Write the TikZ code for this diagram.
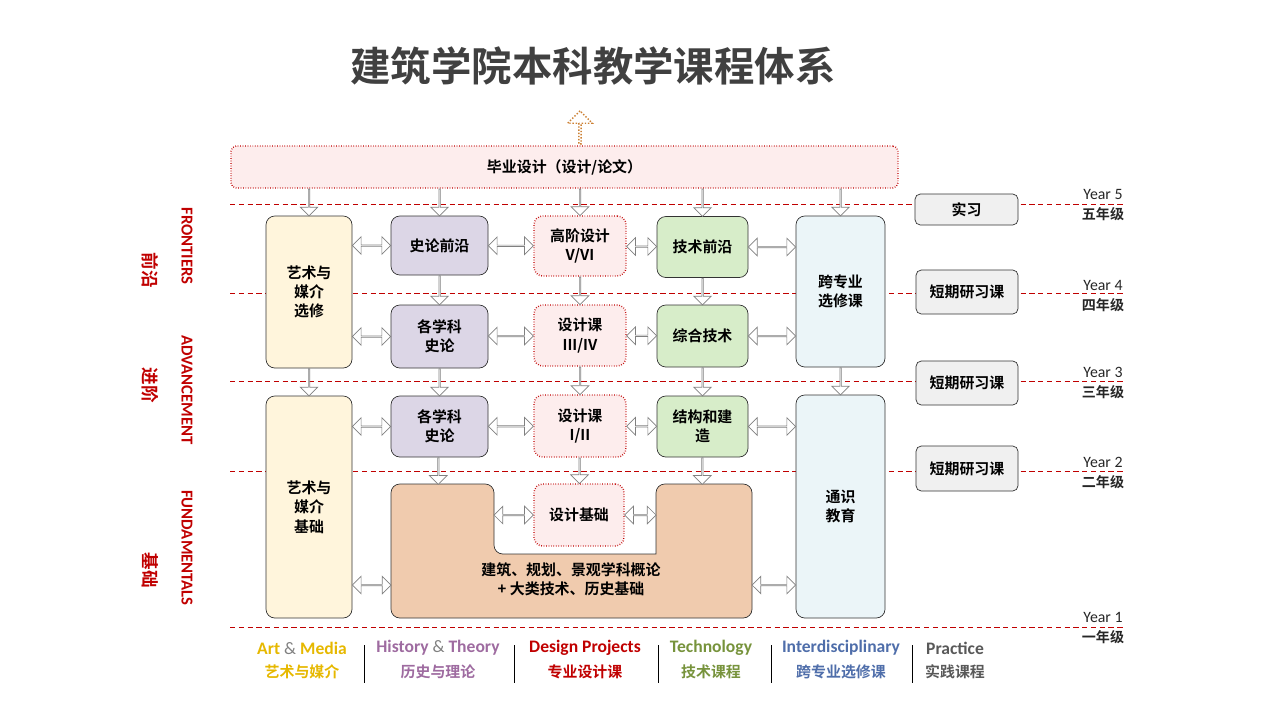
\documentclass[tikz,border=0pt]{standalone}
\usepackage{fontspec}
\setmainfont{Noto Sans CJK SC}[BoldFont={* Bold}]
\newfontfamily\en{Carlito}
\usepackage{tikz}
\usetikzlibrary{shapes.arrows, calc, positioning}

\definecolor{cream}{HTML}{FFF5DC}
\definecolor{lav}{HTML}{DCD6E6}
\definecolor{mint}{HTML}{D7EDC9}
\definecolor{ice}{HTML}{EBF5F8}
\definecolor{peach}{HTML}{F0CBAE}
\definecolor{pinkbg}{HTML}{FDEDED}
\definecolor{darkred}{HTML}{C00000}
\definecolor{gold}{HTML}{E6B800}
\definecolor{purp}{HTML}{9E6BA0}
\definecolor{olive}{HTML}{77933C}
\definecolor{navy}{HTML}{4F6EAA}
\definecolor{dgray}{HTML}{595959}

% hollow double arrow between two points
\newcommand{\darr}[2]{\path let \p1=($(#2)-(#1)$) in node[darr, minimum height=\x1] at ($(#1)!.5!(#2)$) {};}
% hollow up arrow from bottom point to top point
\newcommand{\uarr}[2]{\path let \p1=($(#2)-(#1)$) in node[uarr, minimum height=\y1] at ($(#1)!.5!(#2)$) {};}

\begin{document}
\begin{tikzpicture}[x=0.02cm, y=-0.02cm,
    box/.style={rectangle, rounded corners=5pt, draw=black!80, thin, align=center, font=\bfseries\fontsize{8.5}{11}\selectfont, inner sep=0pt},
    dbox/.style={box, draw=darkred, densely dotted, thick, fill=pinkbg},
    grid/.style={darkred, densely dashed, thin},
    darr/.style={double arrow, draw=gray, fill=white, thin, minimum width=10pt, double arrow head extend=2.5pt, inner sep=0pt},
    uarr/.style={single arrow, draw=gray, fill=white, thin, rotate=-90, minimum width=10pt, single arrow head extend=2.5pt, inner sep=0pt},
    year/.style={font=\en\fontsize{9}{10}\selectfont, text=black!85},
    yzh/.style={font=\bfseries\fontsize{8}{9}\selectfont, text=black!85},
    side/.style={rotate=-90, text=darkred, font=\en\bfseries\fontsize{9.5}{10}\selectfont},
    legen/.style={font=\en\bfseries\fontsize{10}{11}\selectfont},
    legzh/.style={font=\bfseries\fontsize{8.5}{10}\selectfont}
]
\useasboundingbox (0,0) rectangle (1280,720);

% Title
\node[font=\bfseries\fontsize{23}{26}\selectfont, text=black!75] (title) at (593,66) {建筑学院本科教学课程体系};

% Grid lines
\foreach \y in {204,293,381,471,627}
  \draw[grid] (230,\y) -- (1125,\y);

% Year labels
\foreach \y/\n/\z in {194/5/五, 285/4/四, 372/3/三, 462/2/二, 617/1/一} {
  \node[year] at (1103,\y) {Year \n};
  \node[yzh] at (1103,\y+20) {\z 年级};
}

% Side labels
\node[side] (fr) at (187,246) {FRONTIERS};
\node[side] (ad) at (187,390) {ADVANCEMENT};
\node[side] (fu) at (187,548) {FUNDAMENTALS};
\node[side, font=\bfseries\fontsize{10}{11}\selectfont] (frz) at (150,270) {前沿};
\node[side, font=\bfseries\fontsize{10}{11}\selectfont] (adz) at (150,385) {进阶};
\node[side, font=\bfseries\fontsize{10}{11}\selectfont] (fuz) at (150,570) {基础};

% Thesis
\node[dbox, rounded corners=3pt, minimum width=667*0.02cm, minimum height=42*0.02cm] (thesis) at (564.5,167) {毕业设计（设计/论文）};
\node[single arrow, draw=brown!80!orange, densely dotted, thick, fill=white, rotate=90, minimum width=14pt, single arrow head extend=4pt, minimum height=33*0.02cm, inner sep=0pt] (out) at (580,128) {};

% U-shaped foundation block
\draw[draw=black!80, fill=peach, thin, rounded corners=5pt]
  (391,618) -- (391,484) -- (494,484) -- (494,554) [sharp corners] -- (656,554) [rounded corners=5pt] -- (656,484) -- (752,484) -- (752,618) -- cycle;
\node[align=center, font=\bfseries\fontsize{8.5}{11}\selectfont] (intro) at (571,579) {建筑、规划、景观学科概论\\+ 大类技术、历史基础};
\coordinate (uL) at (494,515);
\coordinate (uR) at (656,515);
\coordinate (uLo) at (391,585);
\coordinate (uRo) at (752,585);
\coordinate (uT1) at (437,484);
\coordinate (uT2) at (702,484);

% Year 5/4 row
\node[box, fill=cream, minimum width=86*0.02cm, minimum height=152*0.02cm] (artE) at (309,292) {艺术与\\媒介\\选修};
\node[box, fill=lav, minimum width=97*0.02cm, minimum height=59*0.02cm] (hisF) at (439.5,245.5) {史论前沿};
\node[dbox, minimum width=92*0.02cm, minimum height=60*0.02cm] (desA) at (580,246) {高阶设计\\V/VI};
\node[box, fill=mint, minimum width=91*0.02cm, minimum height=61*0.02cm] (tecF) at (702.5,247) {技术前沿};
\node[box, fill=ice, minimum width=89*0.02cm, minimum height=151*0.02cm] (inter) at (840.5,291.5) {跨专业\\选修课};
\node[box, fill=black!6, rounded corners=3pt, minimum width=103*0.02cm, minimum height=31*0.02cm] (prac) at (966.5,209.5) {实习};

% Year 4/3 row
\node[box, fill=lav, minimum width=97*0.02cm, minimum height=63*0.02cm] (hisB) at (439.5,336.5) {各学科\\史论};
\node[dbox, minimum width=92*0.02cm, minimum height=61*0.02cm] (desB) at (580,335.5) {设计课\\III/IV};
\node[box, fill=mint, minimum width=91*0.02cm, minimum height=62*0.02cm] (tecB) at (702.5,336) {综合技术};
\node[box, fill=black!6, rounded corners=3pt, minimum width=102*0.02cm, minimum height=44*0.02cm] (sw4) at (967,292) {短期研习课};
\node[box, fill=black!6, rounded corners=3pt, minimum width=102*0.02cm, minimum height=44*0.02cm] (sw3) at (967,383) {短期研习课};
\node[box, fill=black!6, rounded corners=3pt, minimum width=102*0.02cm, minimum height=45*0.02cm] (sw2) at (967,468.5) {短期研习课};

% Year 2/1 row
\node[box, fill=cream, minimum width=86*0.02cm, minimum height=222*0.02cm] (artB) at (309,507) {艺术与\\媒介\\基础};
\node[box, fill=lav, minimum width=97*0.02cm, minimum height=61*0.02cm] (hisA) at (439.5,426.5) {各学科\\史论};
\node[dbox, minimum width=92*0.02cm, minimum height=62*0.02cm] (desC) at (580,426) {设计课\\I/II};
\node[box, fill=mint, minimum width=91*0.02cm, minimum height=61*0.02cm] (tecA) at (702.5,426.5) {结构和建\\造};
\node[box, fill=ice, minimum width=89*0.02cm, minimum height=223*0.02cm] (gen) at (840.5,506.5) {通识\\教育};
\node[dbox, minimum width=90*0.02cm, minimum height=62*0.02cm] (desD) at (579,515) {设计基础};

% Horizontal links
\darr{artE.east |- hisF.west}{hisF.west}
\darr{hisF.east}{desA.west}
\darr{desA.east}{tecF.west}
\darr{tecF.east}{inter.west |- tecF.east}
\darr{artE.east |- hisB.west}{hisB.west}
\darr{hisB.east}{desB.west}
\darr{desB.east}{tecB.west}
\darr{tecB.east}{inter.west |- tecB.east}
\darr{artB.east |- hisA.west}{hisA.west}
\darr{hisA.east}{desC.west}
\darr{desC.east}{tecA.west}
\darr{tecA.east}{gen.west |- tecA.east}
\darr{uL}{desD.west}
\darr{desD.east}{uR}
\darr{artB.east |- uLo}{uLo}
\darr{uRo}{gen.west |- uRo}

% Vertical links
\uarr{artE.north}{thesis.south -| artE.north}
\uarr{hisF.north}{thesis.south -| hisF.north}
\uarr{desA.north}{thesis.south -| desA.north}
\uarr{tecF.north}{thesis.south -| tecF.north}
\uarr{inter.north}{thesis.south -| inter.north}
\uarr{hisB.north}{hisF.south}
\uarr{desB.north}{desA.south}
\uarr{tecB.north}{tecF.south}
\uarr{artB.north}{artE.south}
\uarr{hisA.north}{hisB.south}
\uarr{desC.north}{desB.south}
\uarr{tecA.north}{tecB.south}
\uarr{gen.north}{inter.south}
\uarr{uT1}{hisA.south}
\uarr{desD.north}{desC.south}
\uarr{uT2}{tecA.south}

% Legend
\node[legen, text=gold] (l1) at (302,648) {Art {\mdseries\color{black!50}\&} Media};
\node[legzh, text=gold] (z1) at (302,672) {艺术与媒介};
\node[legen, text=purp] (l2) at (438,648) {History {\mdseries\color{black!50}\&} Theory};
\node[legzh, text=purp] (z2) at (438,672) {历史与理论};
\node[legen, text=darkred] (l3) at (585,648) {Design Projects};
\node[legzh, text=darkred] (z3) at (585,672) {专业设计课};
\node[legen, text=olive] (l4) at (711,648) {Technology};
\node[legzh, text=olive] (z4) at (711,672) {技术课程};
\node[legen, text=navy] (l5) at (841,648) {Interdisciplinary};
\node[legzh, text=navy] (z5) at (841,672) {跨专业选修课};
\node[legen, text=dgray] (l6) at (955,648) {Practice};
\node[legzh, text=dgray] (z6) at (955,672) {实践课程};
\foreach \x in {364,514,658,771,912}
  \draw[black, thin] (\x,645) -- (\x,683);

\end{tikzpicture}
\end{document}
